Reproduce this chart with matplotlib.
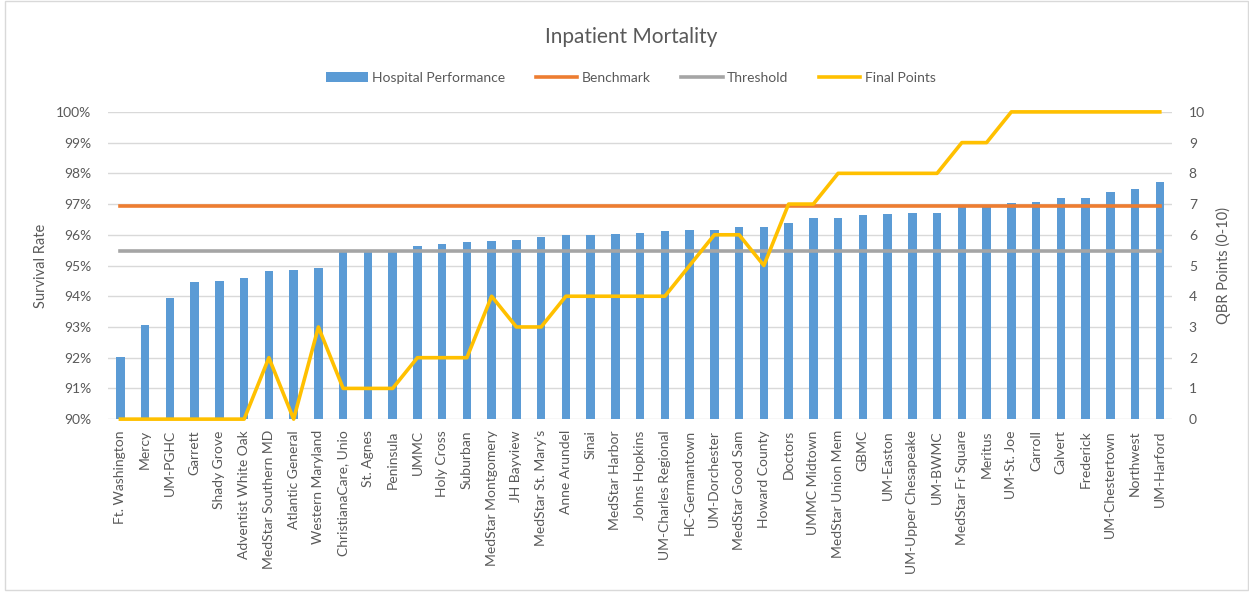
import matplotlib
matplotlib.use("Agg")
import matplotlib.pyplot as plt
from matplotlib.patches import Rectangle
from matplotlib.ticker import FuncFormatter

plt.rcParams["font.family"] = ["Lato", "DejaVu Sans"]

# 病院名と値
hospitals = [
    "Ft. Washington", "Mercy", "UM-PGHC", "Garrett", "Shady Grove",
    "Adventist White Oak", "MedStar Southern MD", "Atlantic General",
    "Western Maryland", "ChristianaCare, Unio", "St. Agnes", "Peninsula",
    "UMMC", "Holy Cross", "Suburban", "MedStar Montgomery", "JH Bayview",
    "MedStar St. Mary's", "Anne Arundel", "Sinai", "MedStar Harbor",
    "Johns Hopkins", "UM-Charles Regional", "HC-Germantown", "UM-Dorchester",
    "MedStar Good Sam", "Howard County", "Doctors", "UMMC Midtown",
    "MedStar Union Mem", "GBMC", "UM-Easton", "UM-Upper Chesapeake",
    "UM-BWMC", "MedStar Fr Square", "Meritus", "UM-St. Joe", "Carroll",
    "Calvert", "Frederick", "UM-Chestertown", "Northwest", "UM-Harford",
]

performance = [
    92.03, 93.06, 93.94, 94.47, 94.51, 94.60, 94.82, 94.87, 94.91,
    95.47, 95.48, 95.49, 95.62, 95.70, 95.75, 95.79, 95.84, 95.92,
    95.98, 95.98, 96.01, 96.06, 96.11, 96.14, 96.14, 96.24, 96.24,
    96.37, 96.55, 96.55, 96.64, 96.68, 96.72, 96.72, 96.90, 96.91,
    97.03, 97.07, 97.21, 97.21, 97.38, 97.48, 97.73,
]

benchmark = 96.93
threshold = 95.47

final_points = [
    0, 0, 0, 0, 0, 0, 2, 0, 3, 1, 1, 1, 2, 2, 2, 4, 3, 3, 4, 4, 4, 4,
    4, 5, 6, 6, 5, 7, 7, 8, 8, 8, 8, 8, 9, 9, 10, 10, 10, 10, 10, 10, 10,
]

text_color = "#595959"
x = list(range(len(hospitals)))

fig = plt.figure(figsize=(12.49, 5.92), dpi=100)
fig.patches.append(Rectangle((0.004, 0.003), 0.995, 0.995, transform=fig.transFigure,
                             fill=False, edgecolor="#D9D9D9", linewidth=1))

ax = fig.add_axes([0.0865, 0.292, 0.852, 0.519])
ax.bar(x, performance, width=0.34, color="#5B9BD5", label="Hospital Performance", zorder=2)
ax.plot(x, [benchmark] * len(x), color="#ED7D31", linewidth=2.6, label="Benchmark", zorder=3)
ax.plot(x, [threshold] * len(x), color="#A5A5A5", linewidth=2.6, label="Threshold", zorder=3)

ax.set_ylim(90, 100)
ax.set_xlim(-0.5, len(x) - 0.5)
ax.set_yticks(range(90, 101))
ax.yaxis.set_major_formatter(FuncFormatter(lambda v, p: f"{int(v)}%"))
ax.grid(axis="y", color="#D9D9D9", linewidth=1, zorder=0)
ax.set_axisbelow(True)
ax.set_xticks(x)
ax.set_xticklabels(hospitals, rotation=90, fontsize=9.8, color=text_color)
ax.tick_params(axis="both", length=0, colors=text_color, labelsize=10)
ax.tick_params(axis="x", pad=8)
ax.tick_params(axis="y", pad=12)
for s in ax.spines.values():
    s.set_visible(False)
ax.set_ylabel("Survival Rate", color=text_color, fontsize=10.5, labelpad=6)

ax2 = ax.twinx()
ax2.plot(x, final_points, color="#FFC000", linewidth=2.6, label="Final Points",
         zorder=4, clip_on=False)
ax2.set_ylim(0, 10)
ax2.set_yticks(range(0, 11))
ax2.tick_params(axis="y", length=0, colors=text_color, labelsize=10, pad=12)
for s in ax2.spines.values():
    s.set_visible(False)
ax2.set_ylabel("QBR Points (0-10)", color=text_color, fontsize=10.5, labelpad=8)

fig.suptitle("Inpatient Mortality", x=0.505, y=0.955, fontsize=15, color=text_color)

h1, l1 = ax.get_legend_handles_labels()
h2, l2 = ax2.get_legend_handles_labels()
order = [2, 0, 1]
handles = [h1[i] for i in order] + h2
labels = [l1[i] for i in order] + l2
fig.legend(handles, labels, loc="center", bbox_to_anchor=(0.505, 0.869), ncol=4,
           frameon=False, fontsize=10, labelcolor=text_color,
           handlelength=3.0, handleheight=0.7, columnspacing=2.2, handletextpad=0.3)

plt.savefig("out.png", dpi=100)
plt.close()
